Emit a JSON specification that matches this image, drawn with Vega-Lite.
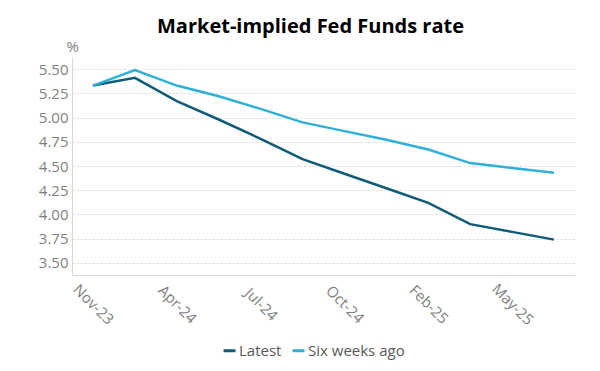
{
  "$schema": "https://vega.github.io/schema/vega-lite/v6.json",
  "width": 503,
  "height": 218,
  "autosize": {"type": "none"},
  "padding": {"left": 72, "top": 57, "right": 25, "bottom": 96},
  "background": "white",
  "config": {"view": {"stroke": null}},
  "title": {"text": "Market-implied Fed Funds rate", "font": "Open Sans", "fontSize": 20, "fontWeight": "bold", "color": "#000000", "anchor": "middle", "offset": 2, "dx": -13},
  "data": {"values": [
    {"date": "Nov-23", "series": "Latest", "rate": 5.33},
    {"date": "Jan-24", "series": "Latest", "rate": 5.41},
    {"date": "Apr-24", "series": "Latest", "rate": 5.17},
    {"date": "Jun-24", "series": "Latest", "rate": 4.98},
    {"date": "Jul-24", "series": "Latest", "rate": 4.78},
    {"date": "Sep-24", "series": "Latest", "rate": 4.57},
    {"date": "Oct-24", "series": "Latest", "rate": 4.42},
    {"date": "Dec-24", "series": "Latest", "rate": 4.27},
    {"date": "Feb-25", "series": "Latest", "rate": 4.12},
    {"date": "Mar-25", "series": "Latest", "rate": 3.90},
    {"date": "May-25", "series": "Latest", "rate": 3.82},
    {"date": "Jul-25", "series": "Latest", "rate": 3.74},
    {"date": "Nov-23", "series": "Six weeks ago", "rate": 5.33},
    {"date": "Jan-24", "series": "Six weeks ago", "rate": 5.49},
    {"date": "Apr-24", "series": "Six weeks ago", "rate": 5.33},
    {"date": "Jun-24", "series": "Six weeks ago", "rate": 5.22},
    {"date": "Jul-24", "series": "Six weeks ago", "rate": 5.09},
    {"date": "Sep-24", "series": "Six weeks ago", "rate": 4.95},
    {"date": "Oct-24", "series": "Six weeks ago", "rate": 4.86},
    {"date": "Dec-24", "series": "Six weeks ago", "rate": 4.77},
    {"date": "Feb-25", "series": "Six weeks ago", "rate": 4.67},
    {"date": "Mar-25", "series": "Six weeks ago", "rate": 4.53},
    {"date": "May-25", "series": "Six weeks ago", "rate": 4.48},
    {"date": "Jul-25", "series": "Six weeks ago", "rate": 4.43}
  ]},
  "mark": {"type": "line", "strokeWidth": 2.5, "clip": false},
  "encoding": {
    "x": {
      "field": "date", "type": "ordinal", "sort": null,
      "scale": {"type": "point", "padding": 0.5},
      "axis": {
        "title": null,
        "values": ["Nov-23", "Apr-24", "Jul-24", "Oct-24", "Feb-25", "May-25"],
        "labelAngle": 45, "labelAlign": "center", "labelBaseline": "middle", "labelPadding": 29,
        "ticks": false, "grid": false, "domainColor": "#d9d9d9", "domainWidth": 1,
        "labelFont": "Open Sans", "labelFontSize": 15, "labelColor": "#7f7f7f"
      }
    },
    "y": {
      "field": "rate", "type": "quantitative",
      "scale": {"domain": [3.375, 5.625], "nice": false, "zero": false},
      "axis": {
        "values": [3.5, 3.75, 4.0, 4.25, 4.5, 4.75, 5.0, 5.25, 5.5],
        "format": ".2f",
        "title": "%", "titleAngle": 0, "titleX": -6, "titleY": -3, "titleAlign": "left", "titleBaseline": "bottom",
        "titleFont": "Open Sans", "titleFontSize": 15, "titleFontWeight": "normal", "titleColor": "#7f7f7f",
        "ticks": false, "labelPadding": 4, "domainColor": "#d9d9d9",
        "gridColor": "#d9d9d9", "gridDash": [2, 2],
        "labelFont": "Open Sans", "labelFontSize": 15, "labelColor": "#7f7f7f"
      }
    },
    "color": {
      "field": "series", "type": "nominal",
      "scale": {"domain": ["Latest", "Six weeks ago"], "range": ["#0f5b78", "#2fb0d8"]},
      "legend": {
        "title": null, "orient": "none", "legendX": 150, "legendY": 286, "direction": "horizontal",
        "symbolType": "stroke", "symbolStrokeWidth": 3, "symbolSize": 144,
        "labelFont": "Open Sans", "labelFontSize": 15, "labelColor": "#595959",
        "columnPadding": 4, "labelOffset": 2
      }
    }
  }
}
